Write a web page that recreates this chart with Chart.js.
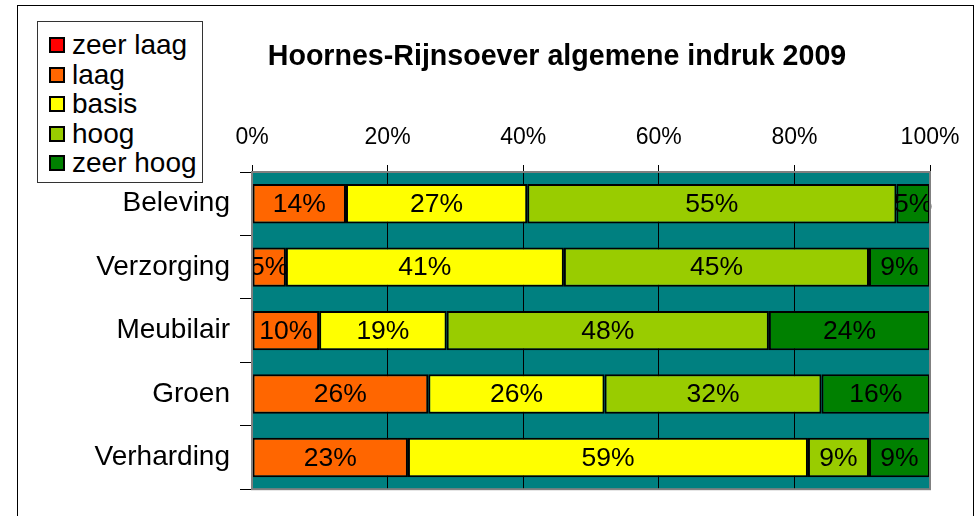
<!DOCTYPE html>
<html>
<head>
<meta charset="utf-8">
<script src="https://cdn.jsdelivr.net/npm/chart.js@4"></script>
<style>
  body { margin: 0; background: #fff; font-family: "Liberation Sans", Arial, sans-serif; }
  #wrap { position: relative; width: 976px; height: 516px; overflow: hidden; }
  #frame { position: absolute; left: 17px; top: 5px; width: 955px; height: 600px; border: 1px solid #000; }
  #title { position: absolute; left: 257px; top: 41px; width: 600px; text-align: center;
           font-weight: bold; font-size: 28.6px; line-height: 29px; white-space: nowrap; }
  #legend { position: absolute; left: 37px; top: 21px; width: 166px; height: 162px;
            border: 1px solid #333; padding: 8px 0 0 11px; box-sizing: border-box; background: #fff; }
  .item { height: 29.5px; line-height: 29.5px; font-size: 28px; white-space: nowrap; }
  .sw { display: inline-block; width: 12px; height: 12px; border: 2px solid #000; margin-right: 7px; vertical-align: 1px; }
  canvas { position: absolute; left: 0; top: 0; }
</style>
</head>
<body>
<div id="wrap">
  <div id="frame"></div>
  <canvas id="chart" width="976" height="516"></canvas>
  <div id="legend"></div>
  <div id="title">Hoornes-Rijnsoever algemene indruk 2009</div>
</div>
<script>
// categories and series (percentages as printed on the bars)
var categories = ['Beleving', 'Verzorging', 'Meubilair', 'Groen', 'Verharding'];
var zeerLaag = [0, 0, 0, 0, 0];
var laag = [14, 5, 10, 26, 23];
var basis = [27, 41, 19, 26, 59];
var hoog = [55, 45, 48, 32, 9];
var zeerHoog = [5, 9, 24, 16, 9];
var seriesNames = ['zeer laag', 'laag', 'basis', 'hoog', 'zeer hoog'];
var xTicks = [0, 20, 40, 60, 80, 100];

var series = [zeerLaag, laag, basis, hoog, zeerHoog];
var colors = ['#FF0000', '#FF6600', '#FFFF00', '#99CC00', '#008000'];
var font = '"Liberation Sans", Arial, sans-serif';

// rows are drawn as 100% stacked bars
var rowSums = categories.map(function(c, j) {
  return series.reduce(function(s, arr) { return s + arr[j]; }, 0);
});

var datasets = series.map(function(arr, i) {
  return {
    label: seriesNames[i],
    data: arr.map(function(v, j) { return v / rowSums[j] * 100; }),
    raw: arr,
    backgroundColor: colors[i],
    borderColor: '#000',
    borderWidth: 2,
    borderSkipped: false,
    barPercentage: 0.62,
    categoryPercentage: 1
  };
});

// html legend
var legend = document.getElementById('legend');
seriesNames.forEach(function(name, i) {
  var d = document.createElement('div');
  d.className = 'item';
  d.innerHTML = '<span class="sw" style="background:' + colors[i] + '"></span>' + name;
  legend.appendChild(d);
});

var plotBg = {
  id: 'plotBg',
  beforeDraw: function(chart) {
    var a = chart.chartArea, ctx = chart.ctx;
    ctx.save();
    ctx.fillStyle = '#008080';
    ctx.fillRect(a.left, a.top, a.right - a.left, a.bottom - a.top);
    ctx.restore();
  },
  afterDraw: function(chart) {
    var a = chart.chartArea, ctx = chart.ctx;
    ctx.save();
    ctx.strokeStyle = '#808080';
    ctx.lineWidth = 2;
    ctx.strokeRect(a.left, a.top, a.right - a.left, a.bottom - a.top);
    ctx.restore();
  }
};

var barLabels = {
  id: 'barLabels',
  afterDatasetsDraw: function(chart) {
    var ctx = chart.ctx;
    ctx.save();
    ctx.font = '26.5px ' + font;
    ctx.fillStyle = '#000';
    ctx.textAlign = 'center';
    ctx.textBaseline = 'middle';
    chart.data.datasets.forEach(function(ds, i) {
      chart.getDatasetMeta(i).data.forEach(function(el, j) {
        if (ds.raw[j] > 0) {
          ctx.fillText(ds.raw[j] + '%', (el.x + el.base) / 2, el.y + 1);
        }
      });
    });
    ctx.restore();
  }
};

new Chart(document.getElementById('chart'), {
  type: 'bar',
  data: { labels: categories, datasets: datasets },
  options: {
    indexAxis: 'y',
    responsive: false,
    animation: false,
    layout: { padding: { left: 0, right: 46, top: 0, bottom: 26 } },
    plugins: {
      legend: { display: false },
      tooltip: { enabled: false }
    },
    scales: {
      x: {
        position: 'top',
        stacked: true,
        min: 0,
        max: 100,
        afterBuildTicks: function(scale) {
          scale.ticks = xTicks.map(function(v) { return { value: v }; });
        },
        afterFit: function(scale) { scale.height = 172; },
        ticks: {
          callback: function(v) { return v + '%'; },
          color: '#000',
          font: { size: 23, family: font },
          padding: 14,
          maxRotation: 0
        },
        grid: { color: '#000', lineWidth: 1, tickLength: 7 },
        border: { color: '#606060', width: 2 }
      },
      y: {
        stacked: true,
        afterFit: function(scale) { scale.width = 252; },
        ticks: {
          color: '#000',
          font: { size: 28, family: font },
          padding: 10
        },
        grid: { drawOnChartArea: false, color: '#000', tickLength: 12, offset: true },
        border: { color: '#606060', width: 2 }
      }
    }
  },
  plugins: [plotBg, barLabels]
});
</script>
</body>
</html>
